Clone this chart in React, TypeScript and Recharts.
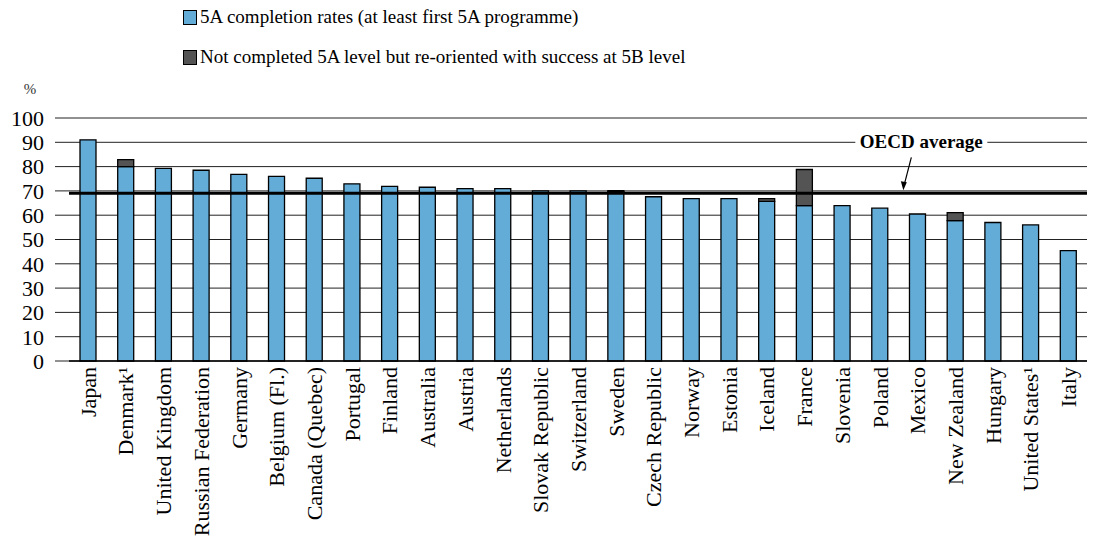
import React from 'react';
import { BarChart, Bar, XAxis, YAxis, CartesianGrid, ReferenceLine, ReferenceDot } from 'recharts';

const countries = [
  'Japan', 'Denmark¹', 'United Kingdom', 'Russian Federation', 'Germany', 'Belgium (Fl.)',
  'Canada (Quebec)', 'Portugal', 'Finland', 'Australia', 'Austria', 'Netherlands',
  'Slovak Republic', 'Switzerland', 'Sweden', 'Czech Republic', 'Norway', 'Estonia',
  'Iceland', 'France', 'Slovenia', 'Poland', 'Mexico', 'New Zealand', 'Hungary',
  'United States¹', 'Italy',
];
const completion5A = [
  91, 80, 79.3, 78.5, 76.8, 76, 75.2, 72.9, 71.9, 71.5, 70.9, 70.9,
  70, 70, 69.7, 67.6, 66.8, 66.8, 65.7, 63.9, 63.9, 62.9, 60.5, 57.8, 57,
  56, 45.4,
];
const reoriented5B = [
  0, 2.9, 0, 0, 0, 0, 0, 0, 0, 0, 0, 0,
  0, 0, 0.4, 0, 0, 0, 1.1, 14.9, 0, 0, 0, 3.3, 0,
  0, 0,
];
const oecdAverage = 69;
const yTicks = [0, 10, 20, 30, 40, 50, 60, 70, 80, 90, 100];
const seriesNames = [
  '5A completion rates (at least first 5A programme)',
  'Not completed 5A level but re-oriented with success at 5B level',
];
const annotationText = 'OECD average';
const annotationAnchor = 'Mexico';
const annotationLevel = 90;

const FONT = 'Liberation Serif';
const BLUE = '#63ACD8';
const DARK = '#545454';
const seriesColors = [BLUE, DARK];

const data = countries.map((c, i) => ({
  country: c,
  a: completion5A[i],
  b: reoriented5B[i],
}));

const XTick = (props: any) => {
  const { x, y, payload } = props;
  return (
    <g transform={`translate(${x},${y})`}>
      <text
        transform="rotate(-90)"
        x={-6}
        y={0}
        dy="0.36em"
        textAnchor="end"
        fontSize={22}
        fontFamily={FONT}
        fill="#000"
      >
        {payload.value}
      </text>
    </g>
  );
};

const LegendBox = () => (
  <div
    style={{
      position: 'absolute',
      left: 183,
      top: -3,
      zIndex: 2,
      fontFamily: FONT,
      fontSize: 19,
      color: '#000',
      lineHeight: '20px',
    }}
  >
    {seriesNames.map((n, i) => (
      <div key={n} style={{ display: 'flex', alignItems: 'center', height: 40, whiteSpace: 'nowrap' }}>
        <span
          style={{
            display: 'inline-block',
            width: 12,
            height: 13,
            background: seriesColors[i],
            border: '1px solid #000',
            marginRight: 3,
          }}
        />
        <span>{n}</span>
      </div>
    ))}
  </div>
);

const AnnotationLabel = (p: any) => {
  const cx = p.cx + 4;
  const cy = p.cy;
  return (
    <g>
      <rect x={cx - 66} y={cy - 12} width={132} height={24} fill="#fff" />
      <text
        x={cx}
        y={cy}
        dy="0.3em"
        textAnchor="middle"
        fontSize={19}
        fontWeight="bold"
        fontFamily={FONT}
        fill="#000"
      >
        {annotationText}
      </text>
    </g>
  );
};

const AnnotationArrow = (p: any) => {
  const tx = p.cx - 14;
  const ty = p.cy - 3;
  const sx = tx + 8;
  const sy = ty - 33;
  return (
    <g>
      <line x1={sx} y1={sy} x2={tx + 1} y2={ty - 6} stroke="#000" strokeWidth={1.2} />
      <path d={`M ${tx} ${ty} L ${tx - 2.5} ${ty - 9} L ${tx + 3.5} ${ty - 8} Z`} fill="#000" />
    </g>
  );
};

export default function App() {
  return (
    <div style={{ position: 'absolute', left: 0, top: 0, width: 1098, height: 554, background: '#fff' }}>
      <LegendBox />
      <BarChart
        width={1098}
        height={554}
        data={data}
        margin={{ top: 118, right: 11, bottom: 0, left: 0 }}
        barSize={16}
      >
        <CartesianGrid horizontal vertical={false} stroke="#222" strokeWidth={1} />
        <XAxis
          dataKey="country"
          interval={0}
          height={193}
          tickSize={0}
          tickMargin={0}
          tickLine={false}
          axisLine={{ stroke: '#000', strokeWidth: 1.5 }}
          tick={<XTick />}
        />
        <YAxis
          type="number"
          domain={[0, 100]}
          ticks={yTicks}
          interval={0}
          width={69}
          axisLine={false}
          tickSize={14}
          tickMargin={11}
          tickLine={{ stroke: '#222' }}
          tick={{ fontSize: 22, fontFamily: FONT, fill: '#000' }}
          label={{
            content: (lp: any) => (
              <text
                x={lp.viewBox.x + 30}
                y={lp.viewBox.y - 24}
                textAnchor="middle"
                fontSize={15}
                fontFamily={FONT}
                fill="#333"
              >
                %
              </text>
            ),
          }}
        />
        <Bar dataKey="a" name={seriesNames[0]} stackId="s" fill={BLUE} stroke="#000" strokeWidth={1.3} isAnimationActive={false} />
        <Bar dataKey="b" name={seriesNames[1]} stackId="s" fill={DARK} stroke="#000" strokeWidth={1.3} isAnimationActive={false} />
        <ReferenceLine y={oecdAverage} stroke="#000" strokeWidth={3} />
        <ReferenceDot x={annotationAnchor} y={annotationLevel} shape={<AnnotationLabel />} />
        <ReferenceDot x={annotationAnchor} y={oecdAverage} shape={<AnnotationArrow />} />
      </BarChart>
    </div>
  );
}
